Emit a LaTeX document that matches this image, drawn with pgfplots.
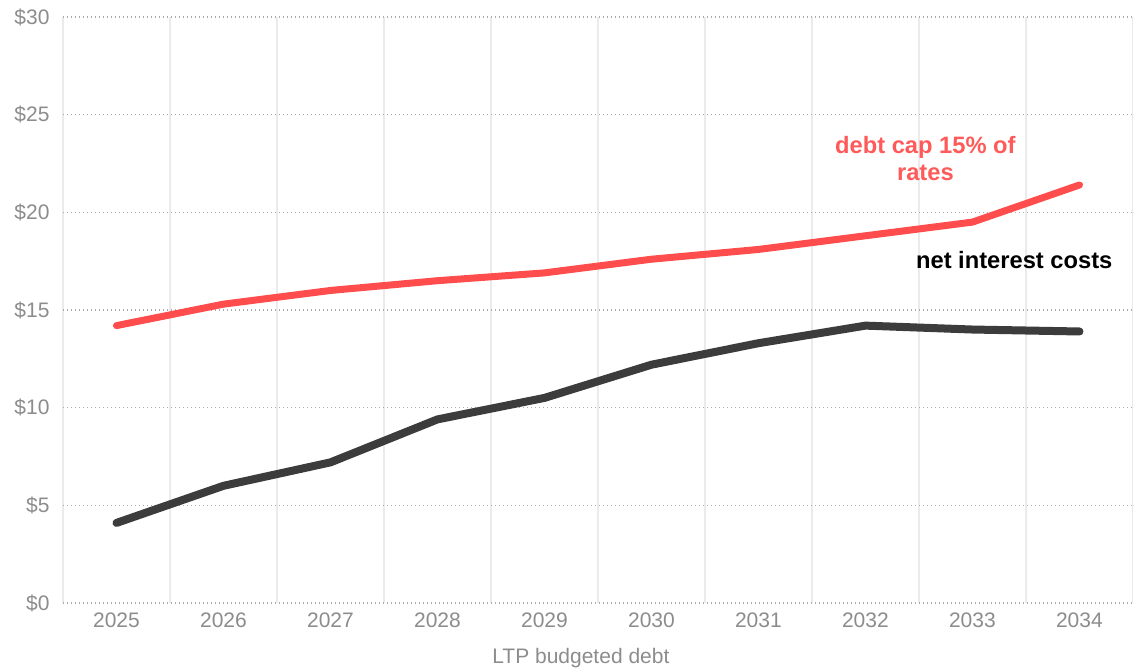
\documentclass[border=0pt]{standalone}
\usepackage{fontspec}
\setmainfont{Liberation Sans}
\usepackage{pgfplots}
\pgfplotsset{compat=1.18}
\definecolor{capred}{HTML}{FF4D4D}
\definecolor{capredtxt}{HTML}{FF5A5A}
\definecolor{netgray}{HTML}{3C3C3C}
\definecolor{ticktxt}{HTML}{8C8C8C}
\definecolor{hgrid}{HTML}{ABABAB}
\definecolor{vgrid}{HTML}{EBEBEB}
\begin{document}
\begin{tikzpicture}
\useasboundingbox (-63bp,-69bp) rectangle (1070bp,603bp);
\begin{axis}[
  at={(0,0)}, anchor=south west,
  scale only axis, width=1070bp, height=586bp,
  xmin=2024.5, xmax=2034.5, ymin=0, ymax=30,
  axis line style={draw=none},
  major tick length=0pt, minor tick length=0pt,
  xtick={2025,...,2034},
  xticklabels={2025,2026,2027,2028,2029,2030,2031,2032,2033,2034},
  minor xtick={2024.5,2025.5,...,2034.5},
  ytick={0,5,...,30},
  yticklabels={\$0,\$5,\$10,\$15,\$20,\$25,\$30},
  ymajorgrids, xminorgrids,
  major grid style={hgrid, line width=1.4bp, dash pattern=on 1.4bp off 2.6bp},
  minor grid style={vgrid, line width=2bp},
  ticklabel style={font=\fontsize{21bp}{25bp}\selectfont, text=ticktxt},
  xticklabel style={yshift=-6bp},
  yticklabel style={xshift=-10bp},
  xlabel={LTP budgeted debt},
  xlabel style={font=\fontsize{21bp}{25bp}\selectfont, text=ticktxt, at={(axis description cs:0.484,0)}, anchor=center, yshift=-55bp},
  clip=false,
]
\addplot[capred, line width=7bp, line cap=round, line join=round] coordinates {
  (2025,14.2) (2026,15.3) (2027,16.0) (2028,16.5) (2029,16.9)
  (2030,17.6) (2031,18.1) (2032,18.8) (2033,19.5) (2034,21.4)
};
\addplot[netgray, line width=8bp, line cap=round, line join=round] coordinates {
  (2025,4.1) (2026,6.0) (2027,7.2) (2028,9.4) (2029,10.5)
  (2030,12.2) (2031,13.3) (2032,14.2) (2033,14.0) (2034,13.9)
};
\node[text=capredtxt, font=\bfseries\fontsize{23.7bp}{27bp}\selectfont, align=center] at (axis cs:2032.56,22.76) {debt cap 15\% of\\rates};
\node[text=black, font=\bfseries\fontsize{23.7bp}{27bp}\selectfont] at (axis cs:2033.39,17.56) {net interest costs};
\end{axis}
\end{tikzpicture}
\end{document}
